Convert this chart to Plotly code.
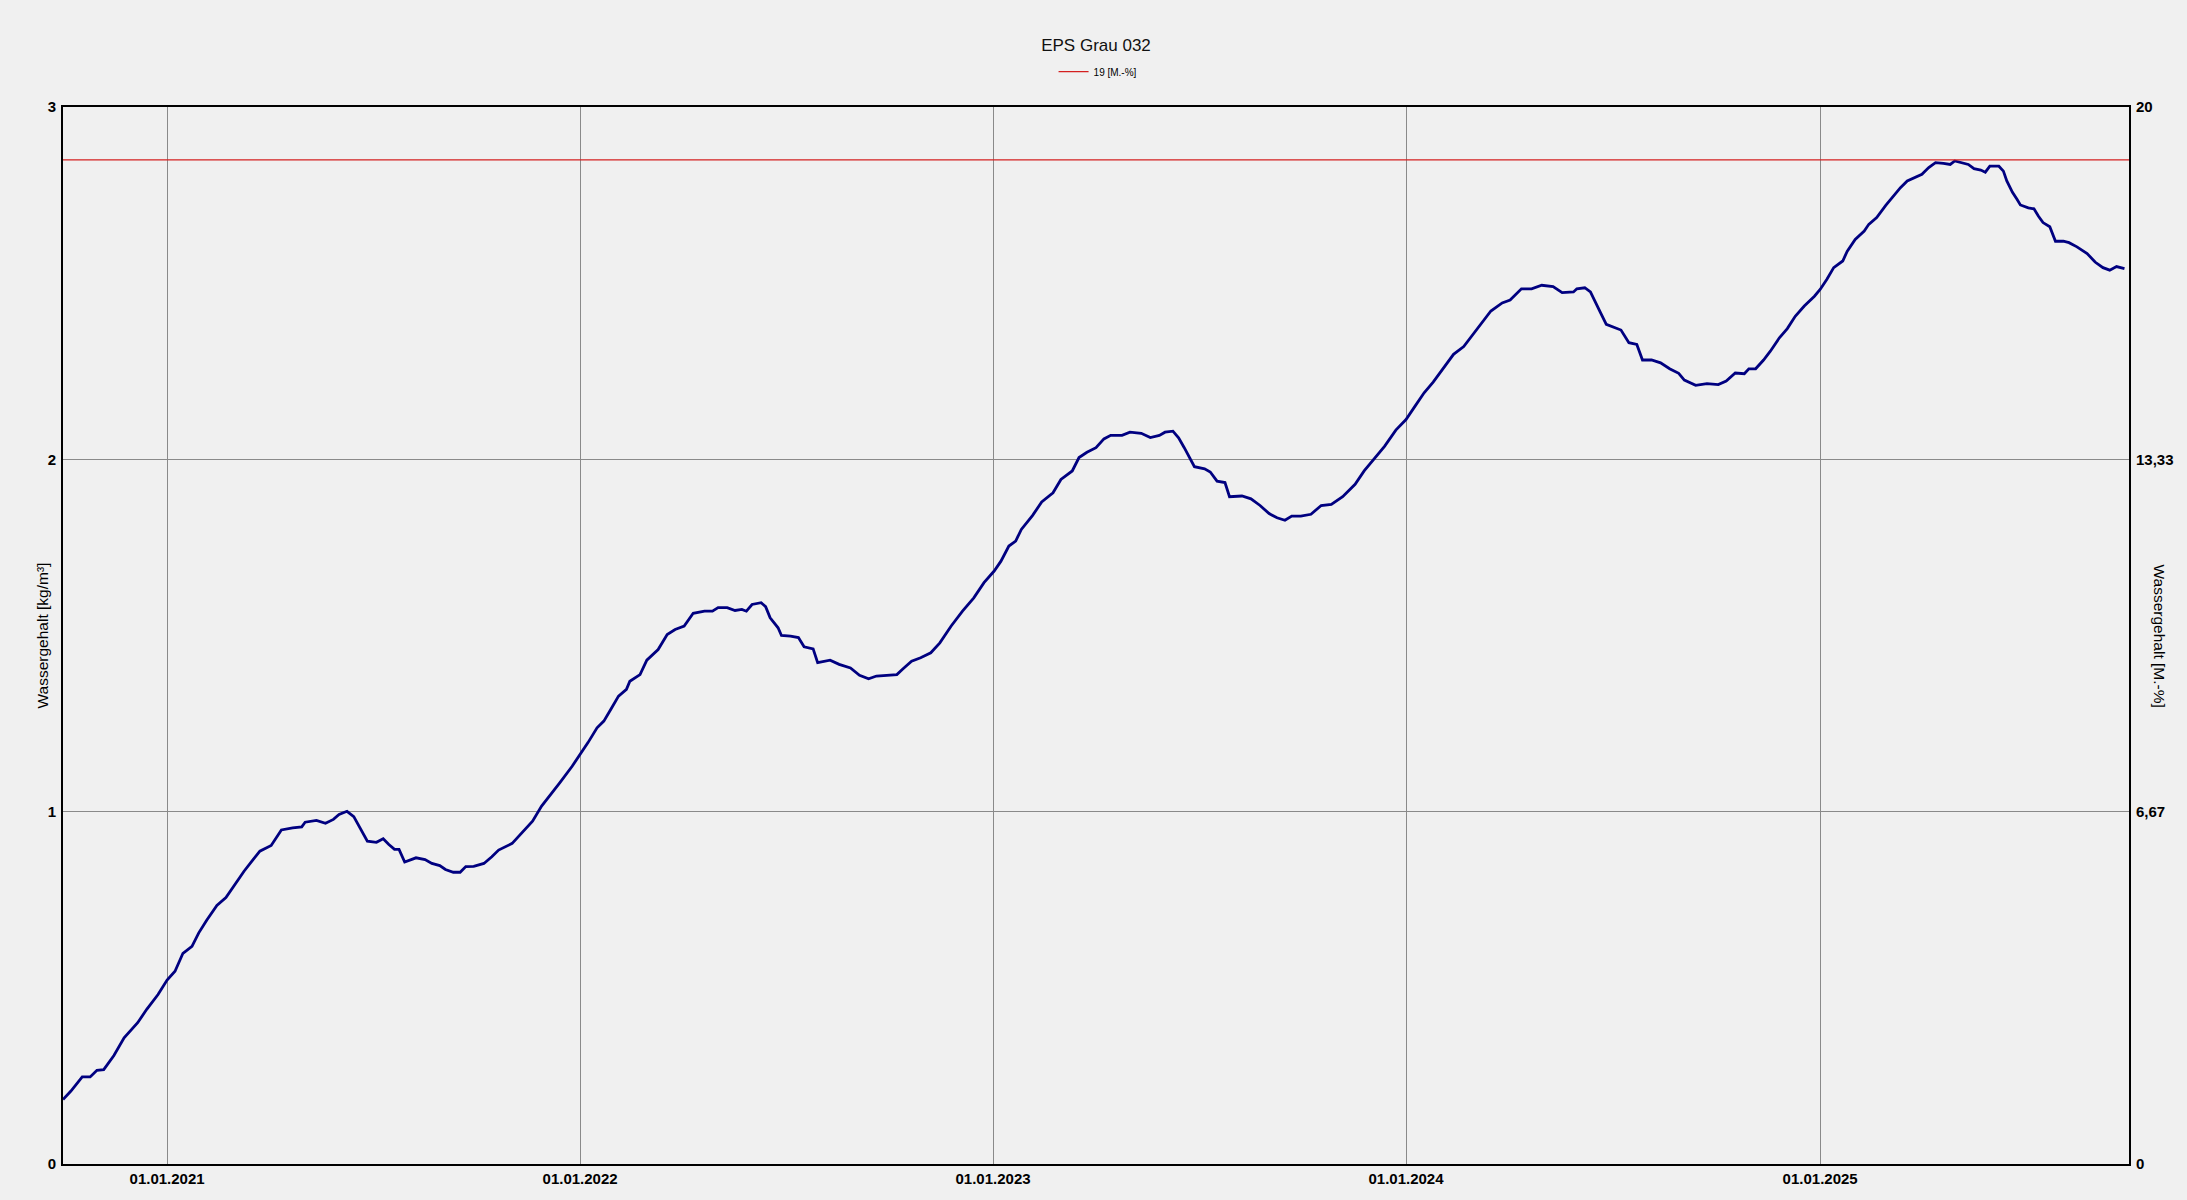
import plotly.graph_objects as go

# Water content series (kg/m³)
dates = [
    "2020-10-01", "2020-10-08", "2020-10-18", "2020-10-25", "2020-10-31", "2020-11-06", "2020-11-15",
    "2020-11-24", "2020-12-06", "2020-12-14", "2020-12-24", "2021-01-01", "2021-01-08", "2021-01-15",
    "2021-01-23", "2021-01-29", "2021-02-05", "2021-02-14", "2021-02-22", "2021-03-03", "2021-03-10",
    "2021-03-18", "2021-03-24", "2021-04-03", "2021-04-12", "2021-04-22", "2021-04-30", "2021-05-03",
    "2021-05-13", "2021-05-21", "2021-05-28", "2021-06-02", "2021-06-09", "2021-06-15", "2021-06-21",
    "2021-06-27", "2021-07-05", "2021-07-11", "2021-07-16", "2021-07-21", "2021-07-25", "2021-07-30",
    "2021-08-09", "2021-08-17", "2021-08-23", "2021-08-30", "2021-09-04", "2021-09-11", "2021-09-17",
    "2021-09-22", "2021-09-29", "2021-10-08", "2021-10-15", "2021-10-21", "2021-11-02", "2021-11-11",
    "2021-11-20", "2021-11-28", "2021-12-05", "2021-12-14", "2021-12-25", "2022-01-01", "2022-01-08",
    "2022-01-16", "2022-01-22", "2022-01-29", "2022-02-04", "2022-02-11", "2022-02-14", "2022-02-23",
    "2022-03-01", "2022-03-11", "2022-03-19", "2022-03-26", "2022-04-03", "2022-04-11", "2022-04-21",
    "2022-04-28", "2022-05-03", "2022-05-11", "2022-05-18", "2022-05-24", "2022-05-28", "2022-06-02",
    "2022-06-10", "2022-06-14", "2022-06-18", "2022-06-25", "2022-06-28", "2022-07-06", "2022-07-13",
    "2022-07-18", "2022-07-26", "2022-07-30", "2022-08-10", "2022-08-18", "2022-08-28", "2022-09-05",
    "2022-09-13", "2022-09-20", "2022-09-28", "2022-10-08", "2022-10-13", "2022-10-21", "2022-10-29",
    "2022-11-07", "2022-11-15", "2022-11-25", "2022-12-05", "2022-12-15", "2022-12-24", "2023-01-02",
    "2023-01-08", "2023-01-15", "2023-01-21", "2023-01-26", "2023-02-05", "2023-02-13", "2023-02-23",
    "2023-03-02", "2023-03-12", "2023-03-18", "2023-03-25", "2023-04-02", "2023-04-09", "2023-04-15",
    "2023-04-25", "2023-05-02", "2023-05-12", "2023-05-20", "2023-05-28", "2023-06-02", "2023-06-09",
    "2023-06-14", "2023-06-19", "2023-06-24", "2023-06-28", "2023-07-07", "2023-07-12", "2023-07-18",
    "2023-07-25", "2023-07-29", "2023-08-09", "2023-08-17", "2023-08-25", "2023-09-02", "2023-09-09",
    "2023-09-16", "2023-09-22", "2023-09-30", "2023-10-09", "2023-10-18", "2023-10-27", "2023-11-06",
    "2023-11-17", "2023-11-25", "2023-12-04", "2023-12-13", "2023-12-23", "2024-01-01", "2024-01-09",
    "2024-01-17", "2024-01-25", "2024-02-03", "2024-02-12", "2024-02-21", "2024-02-29", "2024-03-08",
    "2024-03-16", "2024-03-26", "2024-04-02", "2024-04-12", "2024-04-21", "2024-04-30", "2024-05-10",
    "2024-05-18", "2024-05-28", "2024-05-31", "2024-06-07", "2024-06-12", "2024-06-17", "2024-06-21",
    "2024-06-26", "2024-07-03", "2024-07-09", "2024-07-16", "2024-07-23", "2024-07-28", "2024-08-05",
    "2024-08-13", "2024-08-21", "2024-08-29", "2024-09-03", "2024-09-13", "2024-09-23", "2024-10-03",
    "2024-10-10", "2024-10-18", "2024-10-26", "2024-10-30", "2024-11-05", "2024-11-12", "2024-11-18",
    "2024-11-26", "2024-12-03", "2024-12-10", "2024-12-18", "2024-12-27", "2025-01-01", "2025-01-07",
    "2025-01-13", "2025-01-21", "2025-01-25", "2025-02-01", "2025-02-09", "2025-02-13", "2025-02-20",
    "2025-02-28", "2025-03-07", "2025-03-13", "2025-03-19", "2025-03-28", "2025-04-01", "2025-04-07",
    "2025-04-13", "2025-04-20", "2025-04-26", "2025-04-30", "2025-05-08", "2025-05-12", "2025-05-17",
    "2025-05-23", "2025-05-27", "2025-05-31", "2025-06-08", "2025-06-12", "2025-06-15", "2025-06-20",
    "2025-06-24", "2025-06-27", "2025-07-04", "2025-07-09", "2025-07-13", "2025-07-17", "2025-07-23",
    "2025-07-28", "2025-08-04", "2025-08-09", "2025-08-16", "2025-08-25", "2025-09-01", "2025-09-08",
    "2025-09-14", "2025-09-20", "2025-09-27",
]
water_kg_m3 = [
    0.183, 0.207, 0.247, 0.247, 0.266, 0.268, 0.308,
    0.358, 0.401, 0.439, 0.481, 0.522, 0.547, 0.598,
    0.618, 0.656, 0.692, 0.734, 0.756, 0.798, 0.831,
    0.864, 0.888, 0.904, 0.948, 0.954, 0.957, 0.970,
    0.975, 0.967, 0.978, 0.992, 1.001, 0.986, 0.949,
    0.916, 0.913, 0.923, 0.907, 0.893, 0.893, 0.857,
    0.869, 0.864, 0.853, 0.847, 0.836, 0.828, 0.828,
    0.844, 0.845, 0.853, 0.872, 0.891, 0.910, 0.940,
    0.973, 1.016, 1.044, 1.082, 1.129, 1.162, 1.196,
    1.238, 1.257, 1.295, 1.328, 1.347, 1.370, 1.389,
    1.430, 1.460, 1.503, 1.517, 1.527, 1.563, 1.569,
    1.569, 1.579, 1.579, 1.571, 1.574, 1.569, 1.588,
    1.593, 1.582, 1.550, 1.522, 1.500, 1.498, 1.494,
    1.468, 1.462, 1.423, 1.430, 1.418, 1.408, 1.387,
    1.377, 1.385, 1.387, 1.389, 1.404, 1.427, 1.437,
    1.451, 1.479, 1.527, 1.569, 1.607, 1.650, 1.683,
    1.711, 1.754, 1.768, 1.801, 1.841, 1.879, 1.905,
    1.943, 1.967, 2.005, 2.020, 2.033, 2.058, 2.068,
    2.068, 2.077, 2.074, 2.062, 2.068, 2.077, 2.080,
    2.061, 2.033, 2.002, 1.979, 1.973, 1.964, 1.938,
    1.934, 1.894, 1.896, 1.888, 1.869, 1.846, 1.834,
    1.827, 1.839, 1.839, 1.844, 1.869, 1.872, 1.894,
    1.929, 1.967, 2.002, 2.037, 2.083, 2.113, 2.151,
    2.189, 2.219, 2.260, 2.298, 2.320, 2.354, 2.388,
    2.421, 2.444, 2.452, 2.484, 2.484, 2.494, 2.490,
    2.473, 2.475, 2.484, 2.487, 2.475, 2.440, 2.416,
    2.383, 2.374, 2.367, 2.331, 2.326, 2.282, 2.282,
    2.274, 2.257, 2.244, 2.225, 2.210, 2.215, 2.212,
    2.222, 2.245, 2.243, 2.257, 2.257, 2.282, 2.307,
    2.345, 2.371, 2.406, 2.435, 2.463, 2.482, 2.511,
    2.544, 2.563, 2.591, 2.624, 2.648, 2.667, 2.686,
    2.721, 2.747, 2.771, 2.790, 2.802, 2.809, 2.828,
    2.842, 2.840, 2.837, 2.847, 2.840, 2.837, 2.825,
    2.821, 2.815, 2.832, 2.832, 2.818, 2.790, 2.758,
    2.738, 2.722, 2.714, 2.711, 2.690, 2.672, 2.660,
    2.619, 2.619, 2.615, 2.603, 2.584, 2.560, 2.544,
    2.537, 2.547, 2.541,
]

# Reference threshold line (M.-%)
threshold_dates = ["2020-10-01", "2025-10-01"]
threshold_value = [19, 19]
threshold_name = "19 [M.-%]"

# Axis ticks
x_tick_dates = ["2021-01-01", "2022-01-01", "2023-01-01", "2024-01-01", "2025-01-01"]
x_tick_labels = ["01.01.2021", "01.01.2022", "01.01.2023", "01.01.2024", "01.01.2025"]
y_left_ticks = [0, 1, 2, 3]
y_right_ticks = [0, 6.6667, 13.3333, 20]
y_right_labels = ["0", "6,67", "13,33", "20"]

FONT = "Liberation Sans, Arial, sans-serif"
BG = "#f0f0f0"
TICKFONT = dict(size=15, family=FONT, weight="bold", color="#000000")

fig = go.Figure()
fig.add_trace(go.Scatter(
    x=dates, y=water_kg_m3, mode="lines", showlegend=False,
    line=dict(color="#000080", width=2.8), yaxis="y",
))
fig.add_trace(go.Scatter(
    x=threshold_dates, y=threshold_value, mode="lines", name=threshold_name,
    line=dict(color="#d42020", width=1.2), yaxis="y2",
))

fig.update_layout(
    width=2187, height=1200,
    paper_bgcolor=BG, plot_bgcolor=BG,
    margin=dict(l=63, r=58, t=107, b=36),
    font=dict(family=FONT, color="#000000"),
    title=dict(text="EPS Grau 032", x=0.5, xref="paper", xanchor="center",
               y=1 - 45 / 1200, yanchor="middle", yref="container",
               font=dict(size=17, family=FONT, color="#111111")),
    legend=dict(orientation="h", x=0.501, xanchor="center", y=1.0334, yanchor="middle",
                bgcolor="rgba(0,0,0,0)", font=dict(size=10, family=FONT), itemwidth=30),
    xaxis=dict(
        type="date", range=["2020-10-01", "2025-10-01"],
        tickvals=x_tick_dates, ticktext=x_tick_labels, tickfont=TICKFONT,
        showgrid=True, gridcolor="#8a8a8a", gridwidth=1,
        showline=True, linecolor="#000000", linewidth=2, mirror=True,
        ticks="", zeroline=False,
    ),
    yaxis=dict(
        range=[0, 3], tickvals=y_left_ticks, ticktext=[str(v) for v in y_left_ticks],
        tickfont=TICKFONT,
        showgrid=True, gridcolor="#8a8a8a", gridwidth=1,
        showline=True, linecolor="#000000", linewidth=2, mirror=True,
        ticks="", zeroline=False, ticklabelstandoff=2,
    ),
    yaxis2=dict(
        range=[0, 20], overlaying="y", side="right",
        tickvals=y_right_ticks, ticktext=y_right_labels, tickfont=TICKFONT,
        showgrid=False, showline=True, linecolor="#000000", linewidth=2,
        ticks="", zeroline=False, ticklabelstandoff=2,
    ),
    annotations=[
        dict(text="Wassergehalt [kg/m³]", xref="paper", yref="paper",
             x=(42 - 63) / 2066, y=0.5, textangle=-90, showarrow=False,
             xanchor="center", yanchor="middle", font=dict(size=15.5, family=FONT)),
        dict(text="Wassergehalt [M.-%]", xref="paper", yref="paper",
             x=(2159 - 63) / 2066, y=0.5, textangle=90, showarrow=False,
             xanchor="center", yanchor="middle", font=dict(size=15.5, family=FONT)),
    ],
)

fig.write_html(
    "out.html",
    config={"displayModeBar": False},
    post_script="document.body.style.margin='0';document.body.style.padding='0';"
                "document.body.style.background='#f0f0f0';document.body.style.overflow='hidden';",
)
